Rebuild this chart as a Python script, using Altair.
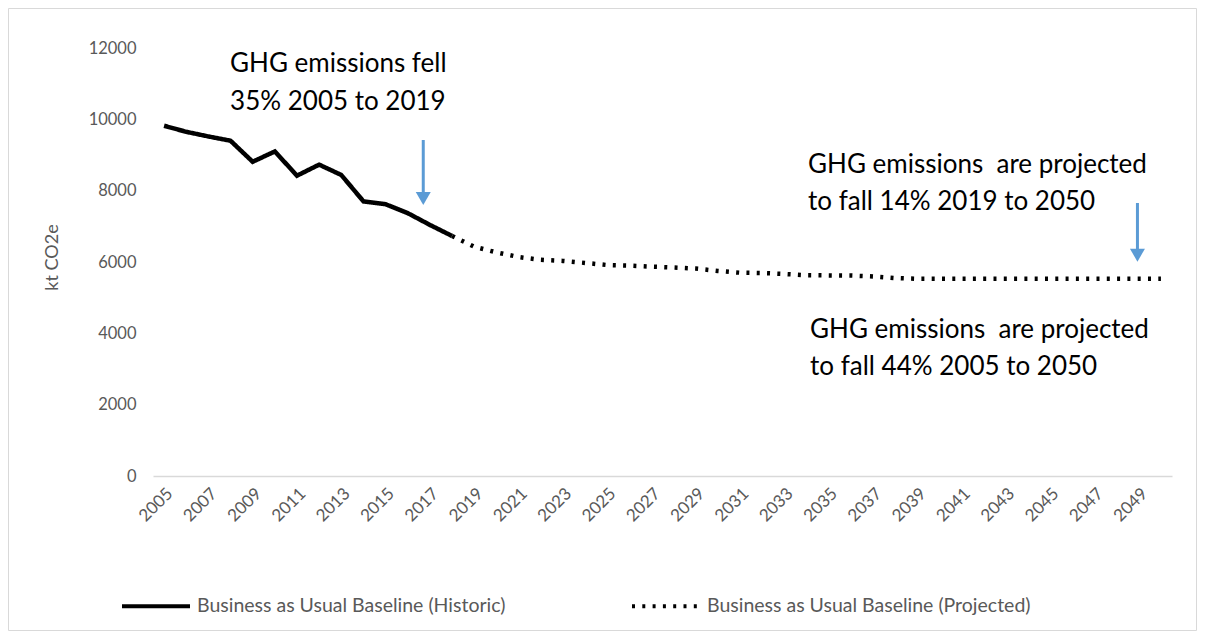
import altair as alt
import pandas as pd

# ---- data ----
hist_years = list(range(2005, 2019))
hist_values = [9820, 9650, 9520, 9400, 8810, 9100, 8420, 8730, 8440, 7700,
               7620, 7370, 7040, 6730]

proj_years = list(range(2018, 2051))
proj_values = [6730, 6430, 6270, 6140, 6060, 6030, 5975, 5915, 5900, 5870,
               5845, 5815, 5750, 5700, 5690, 5665, 5630, 5625, 5620, 5595,
               5550, 5530, 5530, 5530, 5530, 5530, 5530, 5530, 5530, 5530,
               5530, 5530, 5530]

series_names = ["Business as Usual Baseline (Historic)",
                "Business as Usual Baseline (Projected)"]

x_tick_years = list(range(2005, 2050, 2))
y_tick_values = [0, 2000, 4000, 6000, 8000, 10000, 12000]

note_x = [2007.98, 2007.98, 2034.07, 2034.07, 2034.16, 2034.16]
note_y = [11330, 10265, 8500, 7460, 3870, 2835]
note_text = ["GHG emissions fell", "35% 2005 to 2019",
             "GHG emissions\u00a0 are projected", "to fall 14% 2019 to 2050",
             "GHG emissions\u00a0 are projected", "to fall 44% 2005 to 2050"]

arrow_x = [2016.70, 2048.94]
arrow_top = [9420, 7655]
arrow_shaft_end = [7900, 6300]
arrow_head = [7781, 6191]

FONT = "Lato"
GRAY = "#595959"
BLUE = "#5b9bd5"

df = pd.concat([
    pd.DataFrame({"year": hist_years, "value": hist_values, "series": series_names[0]}),
    pd.DataFrame({"year": proj_years, "value": proj_values, "series": series_names[1]}),
])
notes = pd.DataFrame({"x": note_x, "y": note_y, "text": note_text})
arrows = pd.DataFrame({"x": arrow_x, "top": arrow_top, "end": arrow_shaft_end, "head": arrow_head})

W, H = 1019, 428
xscale = alt.Scale(domain=[2004.5, 2050.5], nice=False, zero=False)
yscale = alt.Scale(domain=[0, 12000], nice=False)

frame = alt.Chart(pd.DataFrame({"a": [0]})).mark_rect(
    fill=None, stroke="#d9d9d9", strokeWidth=1
).encode(x=alt.value(-144.5), x2=alt.value(W + 24.5), y=alt.value(-39.5), y2=alt.value(H + 154.5))

lines = alt.Chart(df).mark_line(strokeWidth=4.5).encode(
    x=alt.X("year:Q", scale=xscale,
            axis=alt.Axis(values=x_tick_years, format="d", labelAngle=-45, title=None,
                          ticks=False, grid=False, domainColor="#d9d9d9", domainWidth=1.5,
                          labelColor=GRAY, labelFontSize=17, labelFont=FONT, labelPadding=9,
                          labelOverlap=False)),
    y=alt.Y("value:Q", scale=yscale,
            axis=alt.Axis(values=y_tick_values, format="d", title="kt CO2e", ticks=False,
                          domain=False, grid=False, labelColor=GRAY, labelFontSize=16.5,
                          labelFont=FONT, labelPadding=17, titleColor=GRAY, titleFontSize=18,
                          titleFont=FONT, titleFontWeight="normal", titleX=-101, titleY=209,
                          titleAngle=-90, titleAlign="center", titleBaseline="middle")),
    color=alt.value("black"),
    strokeDash=alt.StrokeDash("series:N",
        scale=alt.Scale(domain=series_names, range=[[1, 0], [3, 7.3]]),
        legend=alt.Legend(title=None, orient="none", direction="horizontal",
                          legendX=-33, legendY=522, symbolType="stroke", symbolSize=4624,
                          symbolStrokeWidth=4, symbolStrokeColor="black",
                          labelFont=FONT, labelFontSize=19.5, labelColor=GRAY, labelLimit=500,
                          labelOffset=5, columnPadding=118)),
)

shafts = alt.Chart(arrows).mark_rule(color=BLUE, strokeWidth=3).encode(
    x=alt.X("x:Q", scale=xscale), y=alt.Y("top:Q", scale=yscale), y2="end:Q"
)
heads = alt.Chart(arrows).mark_point(shape="triangle-down", filled=True, color=BLUE,
                                     size=225, opacity=1).encode(
    x=alt.X("x:Q", scale=xscale), y=alt.Y("head:Q", scale=yscale)
)

texts = alt.Chart(notes).mark_text(align="left", baseline="alphabetic", font=FONT,
                                   fontSize=26, color="black").encode(
    x=alt.X("x:Q", scale=xscale), y=alt.Y("y:Q", scale=yscale), text="text:N"
)

chart = alt.layer(frame, lines, shafts, heads, texts).properties(
    width=W, height=H, autosize=alt.AutoSizeParams(type="none"),
    padding={"left": 145, "top": 40, "right": 25, "bottom": 155},
    background="white",
).configure_view(stroke=None)

chart.save("out.html", embed_options={"renderer": "svg", "actions": False})
